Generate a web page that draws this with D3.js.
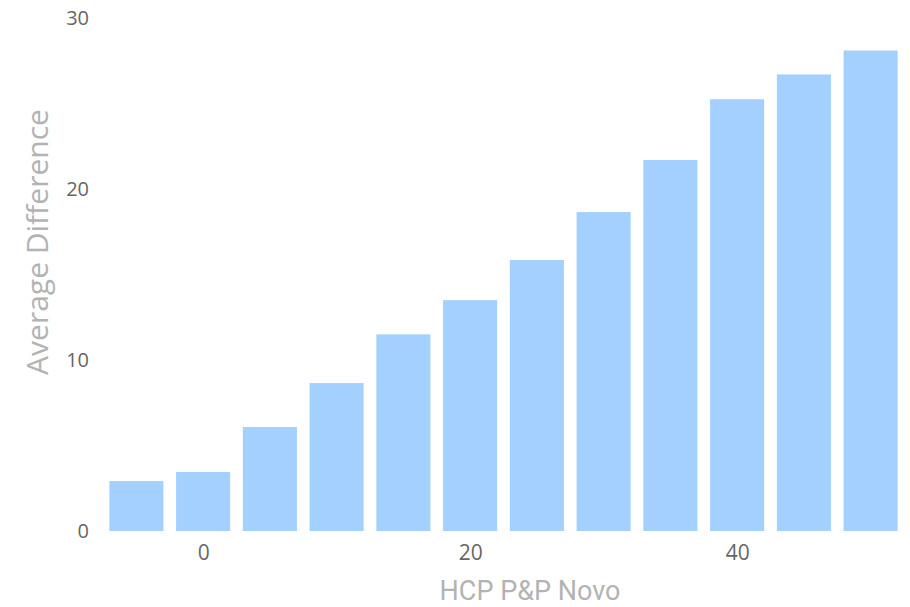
<!DOCTYPE html>
<html>
<head>
<meta charset="utf-8">
<script src="https://cdn.jsdelivr.net/npm/d3@7"></script>
<style>
  body { margin: 0; background: #fff; }
</style>
</head>
<body>
<div id="chart"></div>
<script>
// data
const hcp = [-5, 0, 5, 10, 15, 20, 25, 30, 35, 40, 45, 50]
const avgDiff = [2.92, 3.45, 6.08, 8.65, 11.5, 13.5, 15.85, 18.65, 21.7, 25.25, 26.7, 28.1]
const xTicks = [0, 20, 40]
const yTicks = [0, 10, 20, 30]

const W = 910, H = 607
const barW = 4.05 // in data units

const svg = d3.select("#chart")
  .append("svg")
  .attr("width", W)
  .attr("height", H)

const x = d3.scaleLinear().domain([-7.5, 52.5]).range([103, 904])
const y = d3.scaleLinear().domain([0, 30]).range([531, 18])

// bars
svg.append("g")
  .selectAll("rect")
  .data(hcp)
  .join("rect")
    .attr("x", (d) => x(d - barW / 2))
    .attr("width", (d) => x(d + barW / 2) - x(d - barW / 2))
    .attr("y", (d, i) => y(avgDiff[i]))
    .attr("height", (d, i) => y(0) - y(avgDiff[i]))
    .style("fill", "#a3d0ff")

// y axis
const yAxis = svg.append("g")
  .attr("transform", "translate(96,0)")
  .call(d3.axisLeft(y).tickValues(yTicks).tickSize(0).tickPadding(7))
yAxis.select(".domain").remove()
yAxis.selectAll("text")
  .style("font-family", "'Open Sans', sans-serif")
  .style("font-size", "20px")
  .style("fill", "#666")

// x axis
const xAxis = svg.append("g")
  .attr("transform", "translate(0,531)")
  .call(d3.axisBottom(x).tickValues(xTicks).tickSize(0).tickPadding(14))
xAxis.select(".domain").remove()
xAxis.selectAll("text")
  .style("font-family", "'Open Sans', sans-serif")
  .style("font-size", "21px")
  .style("fill", "#666")

// axis titles
svg.append("text")
  .attr("x", 530)
  .attr("y", 600)
  .attr("text-anchor", "middle")
  .style("font-family", "Roboto, sans-serif")
  .style("font-size", "27px")
  .style("fill", "#b3b3b3")
  .text("HCP P&P Novo")

svg.append("text")
  .attr("transform", "translate(48,242) rotate(-90)")
  .attr("text-anchor", "middle")
  .style("font-family", "'Open Sans', sans-serif")
  .style("font-size", "30px")
  .style("fill", "#b3b3b3")
  .text("Average Difference")
</script>
</body>
</html>
